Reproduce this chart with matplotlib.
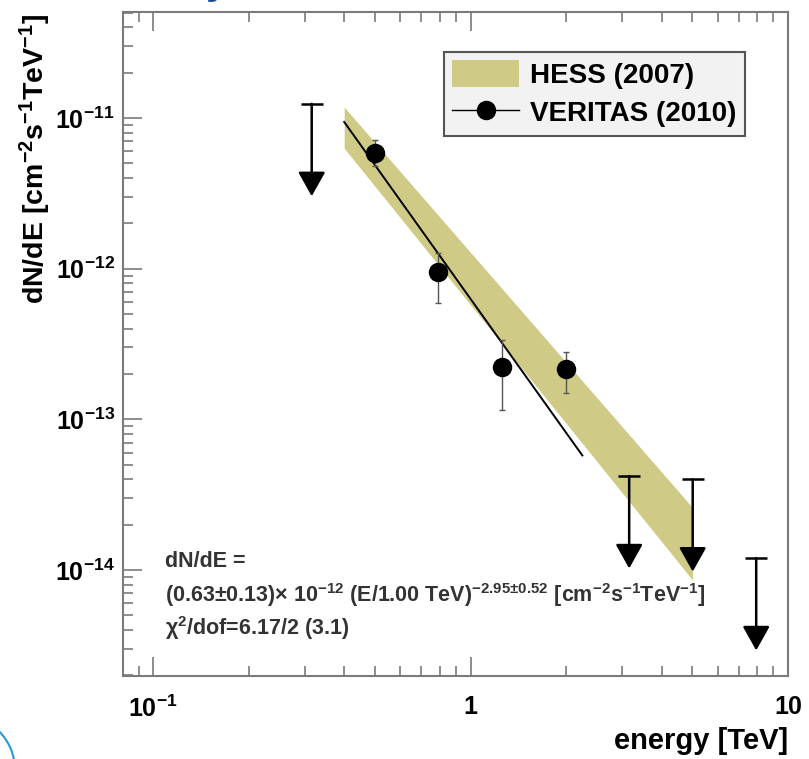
import matplotlib
matplotlib.use("Agg")
import numpy as np
import matplotlib.pyplot as plt
from matplotlib.lines import Line2D
from matplotlib.patches import Patch, Arc
from matplotlib.ticker import LogLocator, FuncFormatter, NullFormatter
from matplotlib.transforms import IdentityTransform

plt.rcParams['font.family'] = ['Liberation Sans', 'DejaVu Sans']
plt.rcParams['font.weight'] = 'bold'
plt.rcParams['axes.labelweight'] = 'bold'
plt.rcParams['mathtext.default'] = 'regular'

# VERITAS (2010) flux points with asymmetric errors
ver_e = [0.50, 0.79, 1.26, 2.00]
ver_flux = [5.86e-12, 9.5e-13, 2.23e-13, 2.16e-13]
ver_lo = [4.8e-12, 5.9e-13, 1.15e-13, 1.50e-13]
ver_hi = [7.1e-12, 1.27e-12, 3.37e-13, 2.80e-13]

# VERITAS upper limits
ul_e = [0.316, 3.16, 5.01, 7.94]
ul_flux = [1.24e-11, 4.2e-14, 4.0e-14, 1.2e-14]

# power-law fit to the VERITAS points
fit_norm = 0.63e-12
fit_index = 2.95
fit_e0 = 1.00
fit_range = [0.40, 2.25]

# HESS (2007) butterfly edges
hess_e = [0.40, 5.0]
hess_hi = [1.18e-11, 2.6e-14]
hess_lo = [6.3e-12, 8.6e-15]

band_color = '#cfcb86'
frame_color = '#7a7a7a'

W, H = 809, 759
fig = plt.figure(figsize=(W / 100, H / 100), dpi=100)
ax = fig.add_axes([123 / W, 1 - 676 / H, (788 - 123) / W, (676 - 12) / H])
ax.set_xscale('log')
ax.set_yscale('log')
ax.set_xlim(0.0804, 10)
ax.set_ylim(1.98e-15, 5.05e-11)

# HESS band
ax.fill_between(hess_e, hess_lo, hess_hi, color=band_color, lw=0, zorder=1)

# fit line
fe = np.geomspace(fit_range[0], fit_range[1], 60)
ax.plot(fe, fit_norm * (fe / fit_e0) ** (-fit_index), color='black', lw=1.4, zorder=2)

# flux points
yerr = [np.array(ver_flux) - np.array(ver_lo), np.array(ver_hi) - np.array(ver_flux)]
ax.errorbar(ver_e, ver_flux, yerr=yerr, fmt='o', ms=13, color='black',
            ecolor='#555555', elinewidth=1, capsize=2, capthick=1, zorder=4)

# upper limits
for e, f in zip(ul_e, ul_flux):
    ax.annotate('', xy=(e, f / 4.1), xytext=(e, f),
                arrowprops=dict(arrowstyle='-|>,head_length=0.75,head_width=0.42',
                                color='black', lw=1.8, mutation_scale=20,
                                shrinkA=0, shrinkB=0), zorder=5)
ax.plot(ul_e, ul_flux, ls='none', marker='_', ms=16, mew=1.8, color='black', zorder=5)

# axes styling
for side in ['left', 'bottom', 'top', 'right']:
    ax.spines[side].set_color(frame_color)
    ax.spines[side].set_linewidth(1.5)


def xfmt(v, pos):
    if abs(v - 1) < 1e-9:
        return '1'
    if abs(v - 10) < 1e-9:
        return '10'
    return r'$10^{%d}$' % int(round(np.log10(v)))


def yfmt(v, pos):
    return r'$10^{%d}$' % int(round(np.log10(v)))


ax.xaxis.set_major_locator(LogLocator(base=10, numticks=10))
ax.xaxis.set_minor_locator(LogLocator(base=10, subs=np.arange(2, 10), numticks=10))
ax.yaxis.set_major_locator(LogLocator(base=10, numticks=10))
ax.yaxis.set_minor_locator(LogLocator(base=10, subs=np.arange(2, 10), numticks=10))
ax.xaxis.set_major_formatter(FuncFormatter(xfmt))
ax.yaxis.set_major_formatter(FuncFormatter(yfmt))
ax.xaxis.set_minor_formatter(NullFormatter())
ax.yaxis.set_minor_formatter(NullFormatter())
ax.tick_params(which='both', direction='in', color=frame_color, width=1.2,
               top=True, right=False, labelsize=18)
ax.tick_params(which='major', length=14)
ax.tick_params(which='minor', length=7)
ax.tick_params(axis='x', pad=14)
ax.tick_params(axis='y', pad=6)

ax.set_xlabel('energy [TeV]', fontsize=21, fontweight='bold', loc='right')
ax.xaxis.set_label_coords(1.0, -0.077)
ax.set_ylabel(r'dN/dE [cm$^{-2}$s$^{-1}$TeV$^{-1}$]', fontsize=20.5,
              fontweight='bold', loc='top')
ax.yaxis.set_label_coords(-0.106, 0.998)

# legend
handles = [Patch(facecolor=band_color, edgecolor='none'),
           Line2D([], [], color='black', marker='o', ms=13, lw=1)]
leg = ax.legend(handles, ['HESS (2007)', 'VERITAS (2010)'], loc='upper right',
                bbox_to_anchor=(0.935, 0.94), borderaxespad=0, fontsize=20,
                fancybox=False, framealpha=1, facecolor='#f2f2f2',
                edgecolor='#555555', handlelength=2.4, handleheight=1.1,
                borderpad=0.3, labelspacing=0.35, handletextpad=0.4)
leg.get_frame().set_linewidth(1.5)
leg.set_zorder(10)

# fit result
txt_kw = dict(transform=ax.transAxes, fontsize=15.5, color='#333333', va='center', ha='left')
ax.text(0.063, 0.172, 'dN/dE =', **txt_kw)
ax.text(0.063, 0.122,
        r'(0.63±0.13)× 10$^{-12}$ (E/1.00 TeV)$^{-2.95±0.52}$ [cm$^{-2}$s$^{-1}$TeV$^{-1}$]',
        **txt_kw)
ax.text(0.063, 0.072, r'$\chi^{2}$/dof=6.17/2 (3.1)', **txt_kw)

# slide decorations around the figure
fig.text(217 / W, 1 + 7 / H, 'y', fontsize=30, color='#1d4f9c', ha='center', va='baseline')
fig.add_artist(Arc((-40, -11), 110, 110, theta1=0, theta2=90,
                   transform=IdentityTransform(), color='#2a98d4', lw=1.5))

fig.savefig('out.png', dpi=100)
